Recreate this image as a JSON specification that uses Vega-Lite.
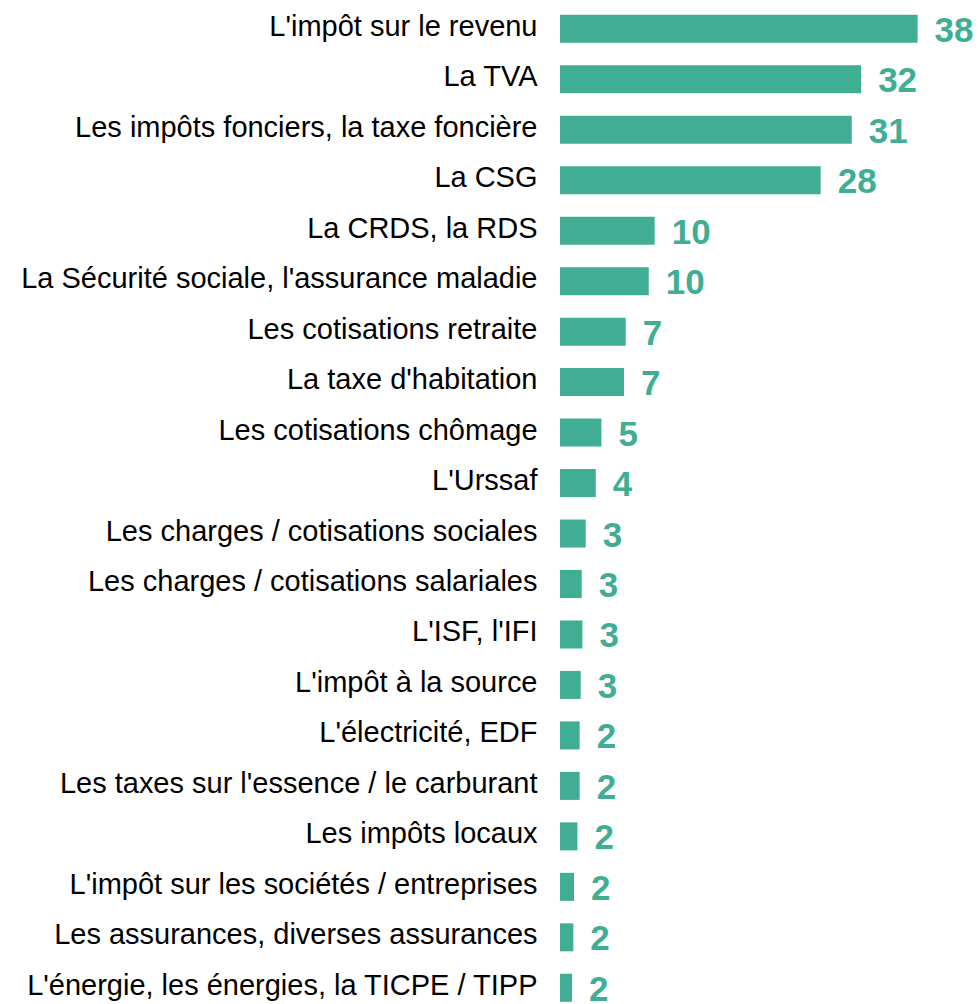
{
  "$schema": "https://vega.github.io/schema/vega-lite/v6.json",
  "width": 420,
  "height": 987,
  "autosize": {"type": "none"},
  "padding": {"left": 560, "top": 14.8, "right": 0, "bottom": 0},
  "background": "white",
  "config": {"view": {"stroke": null}},
  "data": {
    "values": [
      {"item": "L'impôt sur le revenu", "value": 38.0, "label": "38"},
      {"item": "La TVA", "value": 32.0, "label": "32"},
      {"item": "Les impôts fonciers, la taxe foncière", "value": 31.0, "label": "31"},
      {"item": "La CSG", "value": 27.7, "label": "28"},
      {"item": "La CRDS, la RDS", "value": 10.06, "label": "10"},
      {"item": "La Sécurité sociale, l'assurance maladie", "value": 9.43, "label": "10"},
      {"item": "Les cotisations retraite", "value": 6.98, "label": "7"},
      {"item": "La taxe d'habitation", "value": 6.8, "label": "7"},
      {"item": "Les cotisations chômage", "value": 4.4, "label": "5"},
      {"item": "L'Urssaf", "value": 3.8, "label": "4"},
      {"item": "Les charges / cotisations sociales", "value": 2.73, "label": "3"},
      {"item": "Les charges / cotisations salariales", "value": 2.31, "label": "3"},
      {"item": "L'ISF, l'IFI", "value": 2.38, "label": "3"},
      {"item": "L'impôt à la source", "value": 2.2, "label": "3"},
      {"item": "L'électricité, EDF", "value": 2.09, "label": "2"},
      {"item": "Les taxes sur l'essence / le carburant", "value": 2.09, "label": "2"},
      {"item": "Les impôts locaux", "value": 1.85, "label": "2"},
      {"item": "L'impôt sur les sociétés / entreprises", "value": 1.49, "label": "2"},
      {"item": "Les assurances, diverses assurances", "value": 1.42, "label": "2"},
      {"item": "L'énergie, les énergies, la TICPE / TIPP", "value": 1.28, "label": "2"}
    ]
  },
  "encoding": {
    "y": {
      "field": "item",
      "type": "nominal",
      "sort": null,
      "scale": {"paddingInner": 0.445, "paddingOuter": 0},
      "axis": {
        "title": null,
        "ticks": false,
        "domain": false,
        "labelFontSize": 29,
        "labelFont": "Liberation Sans",
        "labelColor": "#000000",
        "labelPadding": 23,
        "labelOffset": -2,
        "labelLimit": 0
      }
    },
    "x": {
      "field": "value",
      "type": "quantitative",
      "scale": {"domain": [0, 44.63]},
      "axis": null
    }
  },
  "layer": [
    {"mark": {"type": "bar", "color": "#40ae94"}},
    {
      "mark": {
        "type": "text",
        "align": "left",
        "baseline": "middle",
        "dx": 17,
        "dy": 2,
        "font": "Liberation Sans",
        "fontWeight": "bold",
        "fontSize": 35,
        "color": "#40ae94"
      },
      "encoding": {"text": {"field": "label"}}
    }
  ]
}
